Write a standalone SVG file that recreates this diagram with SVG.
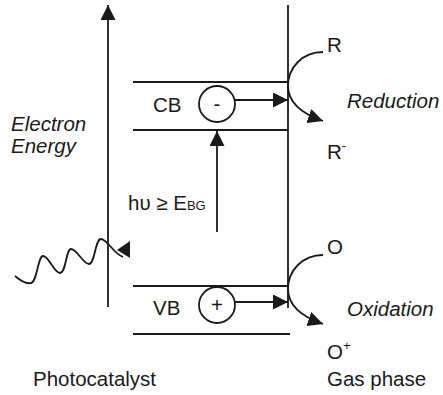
<svg xmlns="http://www.w3.org/2000/svg" width="443" height="395" viewBox="0 0 443 395">
<style>
  .ln { stroke: #1a1a1a; stroke-width: 1.8; fill: none; }
  .t { font-family: "Liberation Sans", Arial, sans-serif; font-size: 20.5px; fill: #1a1a1a; }
  .it { font-style: italic; }
  .sub { font-size: 13px; }
  .circ { fill: #fff; stroke: #1a1a1a; stroke-width: 1.8; }
</style>
<defs>
  <marker id="ah" markerUnits="userSpaceOnUse" markerWidth="15" markerHeight="15" refX="15" refY="7.5" orient="auto">
    <path d="M0,0 L15,7.5 L0,15 z" fill="#1a1a1a"/>
  </marker>
</defs>

<g id="connectors">
  <path class="ln" d="M108,307 V5" marker-end="url(#ah)"/>
  <path class="ln" d="M288,5 V308"/>
  <path class="ln" d="M217,232 V131" marker-end="url(#ah)"/>
  <path class="ln" d="M235,100 H288" marker-end="url(#ah)"/>
  <path class="ln" d="M235,302 H288" marker-end="url(#ah)"/>
  <path class="ln" d="M323,52 C302,52 288,68 288,86 C288,102 300,113 323,121" marker-end="url(#ah)"/>
  <path class="ln" d="M323,255 C302,255 288,271 288,289 C288,305 300,316 323,324" marker-end="url(#ah)"/>
  <path class="ln" d="M15,276 C22,282 27,284 31,283 C37,282 38,256 43,256 C49,256 54,273 60,273 C66,273 66,249 71,249 C77,249 83,264 89,264 C95,264 95,239 101,239 C107,239 113,253 123,257"/>
  <polygon points="117,250 130,241 130,258" fill="#1a1a1a"/>
</g>

<g id="axis-label">
  <text class="t it" x="11" y="131">Electron</text>
  <text class="t it" x="11" y="153">Energy</text>
</g>

<g id="cb">
  <path class="ln" d="M133,82 H288 M133,130 H288"/>
  <text class="t" x="153" y="112">CB</text>
  <circle class="circ" cx="217" cy="104" r="18"/>
  <text class="t" x="217" y="111" text-anchor="middle">-</text>
</g>

<g id="vb">
  <path class="ln" d="M133,286 H288 M133,334 H290"/>
  <text class="t" x="153" y="315">VB</text>
  <circle class="circ" cx="217" cy="305" r="18"/>
  <text class="t" x="217" y="312" text-anchor="middle">+</text>
</g>

<g id="photon-label">
  <text class="t" x="128" y="210">hυ ≥ E<tspan class="sub">BG</tspan></text>
</g>

<g id="reduction">
  <text class="t" x="327" y="52">R</text>
  <text class="t it" x="347" y="108">Reduction</text>
  <text class="t" x="327" y="159">R<tspan class="sub" dy="-9">-</tspan></text>
</g>

<g id="oxidation">
  <text class="t" x="327" y="254">O</text>
  <text class="t it" x="347" y="316">Oxidation</text>
  <text class="t" x="327" y="359">O<tspan class="sub" dy="-9">+</tspan></text>
</g>

<g id="footer">
  <text class="t" x="33" y="386">Photocatalyst</text>
  <text class="t" x="327" y="386">Gas phase</text>
</g>
</svg>
